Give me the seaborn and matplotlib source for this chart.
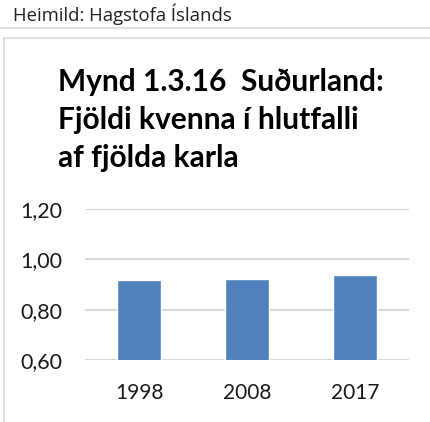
import pandas as pd
import matplotlib.pyplot as plt
from matplotlib.lines import Line2D
import seaborn as sns

years = ["1998", "2008", "2017"]
ratio = [0.918, 0.921, 0.938]
y_ticks = [0.60, 0.80, 1.00, 1.20]
y_labels = ["0,60", "0,80", "1,00", "1,20"]

title = "Mynd 1.3.16  Suðurland:\nFjöldi kvenna í hlutfalli\naf fjölda karla"
source = "Heimild: Hagstofa Íslands"

sns.set_style("white")
plt.rcParams["font.family"] = ["Lato", "DejaVu Sans"]

W, H = 430, 422
fig = plt.figure(figsize=(W / 100, H / 100), dpi=100)
ax = fig.add_axes([85 / W, 1 - 360 / H, 324 / W, 151 / H])

df = pd.DataFrame({"year": years, "ratio": ratio})
sns.barplot(data=df, x="year", y="ratio", color="#4f81bd", saturation=1,
            width=0.4, ax=ax, zorder=3)

ax.set_ylim(0.6, 1.2)
ax.set_xlim(-0.5, 2.5)
ax.set_yticks(y_ticks)
ax.set_yticklabels(y_labels)
ax.yaxis.grid(True, color="#d9d9d9", linewidth=1.5, zorder=0)
ax.set_axisbelow(True)
ax.tick_params(axis="y", length=0, pad=16.5, labelsize=15.5, labelcolor="#1a1a1a")
ax.tick_params(axis="x", length=0, pad=16.5, labelsize=15, labelcolor="#1a1a1a")
ax.set_xlabel("")
ax.set_ylabel("")
for s in ax.spines.values():
    s.set_visible(False)

# source line and frame
fig.text(13 / W, 1 - 14 / H, source, fontsize=13.3, color="#222222",
         va="center", ha="left", family=["Open Sans", "DejaVu Sans"])
fig.add_artist(Line2D([0, 1], [1 - 28 / H, 1 - 28 / H], color="#e0e0e0",
                      linewidth=1.5, transform=fig.transFigure))
fig.add_artist(Line2D([4 / W, 4 / W, 1], [0, 1 - 38 / H, 1 - 38 / H],
                      color="#e0e0e0", linewidth=1.5,
                      transform=fig.transFigure))

fig.text(58 / W, 1 - 68 / H, title, fontsize=21.5, fontweight="bold",
         color="black", va="top", ha="left", linespacing=1.43)

fig.savefig("out.png", dpi=100)
